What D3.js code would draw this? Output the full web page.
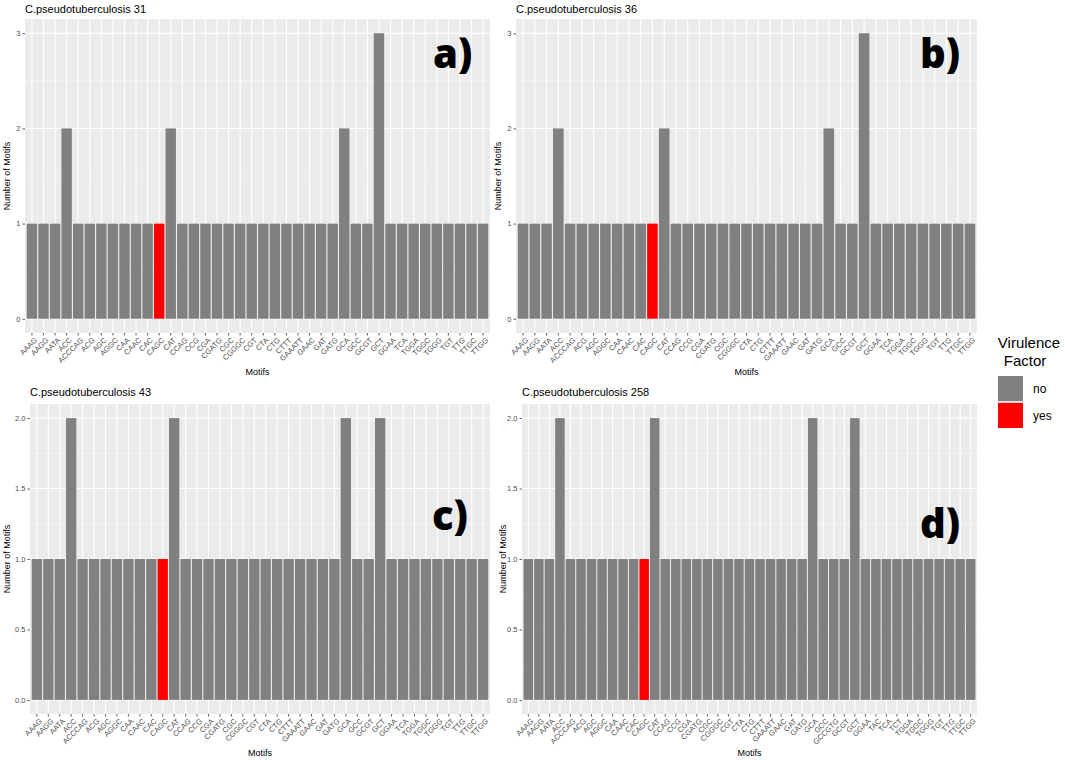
<!DOCTYPE html>
<html>
<head>
<meta charset="utf-8">
<script src="https://cdn.jsdelivr.net/npm/d3@7/dist/d3.min.js"></script>
<style>
  html, body { margin: 0; padding: 0; background: #fff; }
  svg { display: block; }
  text { font-family: "Liberation Sans", Arial, sans-serif; }
</style>
</head>
<body>
<svg id="chart" width="1065" height="760"></svg>
<script>
// ---------------- DATA ----------------
const motifsA = ["AAAG","AAGG","AATA","ACC","ACCCAG","ACG","AGC","AGGC","CAA","CAAC","CAC","CAGC","CAT","CCAG","CCG","CGA","CGATG","CGC","CGGGC","CGT","CTA","CTG","CTTT","GAAATT","GAAC","GAT","GATG","GCA","GCC","GCGT","GCT","GGAA","TCA","TGGA","TGGC","TGGG","TGT","TTG","TTGC","TTGG"];
const countsA = [1,1,1,2,1,1,1,1,1,1,1,1,2,1,1,1,1,1,1,1,1,1,1,1,1,1,1,2,1,1,3,1,1,1,1,1,1,1,1,1];

const motifsB = ["AAAG","AAGG","AATA","ACC","ACCCAG","ACG","AGC","AGGC","CAA","CAAC","CAC","CAGC","CAT","CCAG","CCG","CGA","CGATG","CGC","CGGGC","CTA","CTG","CTTT","GAAATT","GAAC","GAT","GATG","GCA","GCC","GCGT","GCT","GGAA","TCA","TGGA","TGGC","TGGG","TGT","TTG","TTGC","TTGG"];
const countsB = [1,1,1,2,1,1,1,1,1,1,1,1,2,1,1,1,1,1,1,1,1,1,1,1,1,1,2,1,1,3,1,1,1,1,1,1,1,1,1];

const motifsC = ["AAAG","AAGG","AATA","ACC","ACCCAG","ACG","AGC","AGGC","CAA","CAAC","CAC","CAGC","CAT","CCAG","CCG","CGA","CGATG","CGC","CGGGC","CGT","CTA","CTG","CTTT","GAAATT","GAAC","GAT","GATG","GCA","GCC","GCGT","GCT","GGAA","TCA","TGGA","TGGC","TGGG","TGT","TTG","TTGC","TTGG"];
const countsC = [1,1,1,2,1,1,1,1,1,1,1,1,2,1,1,1,1,1,1,1,1,1,1,1,1,1,1,2,1,1,2,1,1,1,1,1,1,1,1,1];

const motifsD = ["AAAG","AAGG","AATA","ACC","ACCCAG","ACG","AGC","AGGC","CAA","CAAC","CAC","CAGC","CAT","CCAG","CCG","CGA","CGATG","CGC","CGGGC","CGT","CTA","CTG","CTTT","GAAATT","GAAC","GAT","GATG","GCA","GCC","GCCGTG","GCGT","GCT","GGAA","TAC","TCA","TCT","TGGA","TGGC","TGGG","TGT","TTG","TTGC","TTGG"];
const countsD = [1,1,1,2,1,1,1,1,1,1,1,1,2,1,1,1,1,1,1,1,1,1,1,1,1,1,1,2,1,1,1,2,1,1,1,1,1,1,1,1,1,1,1];

const virulentMotifs = ["CAGC"];
const titles = ["C.pseudotuberculosis 31","C.pseudotuberculosis 36","C.pseudotuberculosis 43","C.pseudotuberculosis 258"];
const panelTags = ["a)","b)","c)","d)"];
const yTicksTop = [0,1,2,3];
const yTicksBottom = [0,0.5,1,1.5,2];
const legendLevels = ["no","yes"];
const fillColors = {no: "#808080", yes: "#FF0000"};

// ---------------- LAYOUT ----------------
const panels = [
  {motifs: motifsA, counts: countsA, title: titles[0], tag: panelTags[0], ticks: yTicksTop, fmt: d3.format("d"),
   left: 25, right: 490, top: 19, bottom: 333, titleY: 13, xTitleY: 375, ytX: 10, tagX: 433, tagY: 68},
  {motifs: motifsB, counts: countsB, title: titles[1], tag: panelTags[1], ticks: yTicksTop, fmt: d3.format("d"),
   left: 516, right: 977, top: 19, bottom: 333, titleY: 13, xTitleY: 375, ytX: 501, tagX: 920, tagY: 68},
  {motifs: motifsC, counts: countsC, title: titles[2], tag: panelTags[2], ticks: yTicksBottom, fmt: d3.format(".1f"),
   left: 30, right: 490, top: 404, bottom: 714, titleY: 396, xTitleY: 756, ytX: 10, tagX: 432, tagY: 530},
  {motifs: motifsD, counts: countsD, title: titles[3], tag: panelTags[3], ticks: yTicksBottom, fmt: d3.format(".1f"),
   left: 522, right: 977, top: 404, bottom: 714, titleY: 396, xTitleY: 756, ytX: 506, tagX: 920, tagY: 538}
];

const svg = d3.select("#chart");

panels.forEach(p => {
  const g = svg.append("g");
  const maxV = d3.max(p.ticks);
  const y = d3.scaleLinear().domain([-0.05 * maxV, 1.05 * maxV]).range([p.bottom, p.top]);
  const x = d3.scaleBand().domain(p.motifs).range([p.left, p.right]).paddingInner(0.1).paddingOuter(0.15).align(0.5);

  // panel background
  g.append("rect").attr("x", p.left).attr("y", p.top)
    .attr("width", p.right - p.left).attr("height", p.bottom - p.top).attr("fill", "#EBEBEB");

  // minor grid
  const step = p.ticks[1] - p.ticks[0];
  const minor = p.ticks.slice(0, -1).map(t => t + step / 2);
  g.selectAll(".minor").data(minor).enter().append("line")
    .attr("x1", p.left).attr("x2", p.right)
    .attr("y1", d => y(d)).attr("y2", d => y(d))
    .attr("stroke", "#fff").attr("stroke-width", 0.5);
  // major grid
  g.selectAll(".major").data(p.ticks).enter().append("line")
    .attr("x1", p.left).attr("x2", p.right)
    .attr("y1", d => y(d)).attr("y2", d => y(d))
    .attr("stroke", "#fff").attr("stroke-width", 1.1);
  g.selectAll(".vgrid").data(p.motifs).enter().append("line")
    .attr("x1", d => x(d) + x.bandwidth() / 2).attr("x2", d => x(d) + x.bandwidth() / 2)
    .attr("y1", p.top).attr("y2", p.bottom)
    .attr("stroke", "#fff").attr("stroke-width", 1.1);

  // bars
  g.selectAll(".bar").data(p.motifs.map((m, i) => ({m, v: p.counts[i]}))).enter().append("rect")
    .attr("x", d => x(d.m)).attr("width", x.bandwidth())
    .attr("y", d => y(d.v)).attr("height", d => y(0) - y(d.v))
    .attr("fill", d => virulentMotifs.includes(d.m) ? fillColors.yes : fillColors.no);

  // y axis
  const ya = g.append("g").attr("transform", `translate(${p.left},0)`)
    .call(d3.axisLeft(y).tickValues(p.ticks).tickFormat(p.fmt).tickSize(2.5).tickPadding(2));
  ya.select(".domain").remove();
  ya.selectAll(".tick line").attr("stroke", "#333").attr("stroke-width", 0.8);
  ya.selectAll(".tick text").attr("fill", "#4d4d4d").style("font-size", "7.5px")
    .style("font-family", "'Liberation Sans', Arial, sans-serif");

  // x axis
  const xa = g.append("g").attr("transform", `translate(0,${p.bottom})`)
    .call(d3.axisBottom(x).tickSize(2.5).tickPadding(2));
  xa.select(".domain").remove();
  xa.selectAll(".tick line").attr("stroke", "#333").attr("stroke-width", 0.8);
  xa.selectAll(".tick text")
    .attr("fill", "#4d4d4d").style("font-size", "7.5px")
    .style("font-family", "'Liberation Sans', Arial, sans-serif")
    .attr("text-anchor", "end").attr("x", 0).attr("y", 0).attr("dy", "0.7em")
    .attr("transform", "translate(2,4) rotate(-45)");

  // titles
  g.append("text").attr("x", p.left).attr("y", p.titleY)
    .attr("font-size", 11).attr("fill", "#000").text(p.title);
  g.append("text").attr("x", (p.left + p.right) / 2).attr("y", p.xTitleY)
    .attr("text-anchor", "middle").attr("font-size", 9).attr("fill", "#000").text("Motifs");
  g.append("text")
    .attr("transform", `translate(${p.ytX},${(p.top + p.bottom) / 2}) rotate(-90)`)
    .attr("text-anchor", "middle").attr("font-size", 9).attr("fill", "#000").text("Number of Motifs");

  // panel tag
  g.append("text").attr("x", p.tagX).attr("y", p.tagY)
    .style("font-family", "'Open Sans', sans-serif").attr("font-weight", 800)
    .attr("font-size", 40).attr("fill", "#000").text(p.tag);
});

// legend
const lg = svg.append("g");
lg.append("text").attr("x", 1029).attr("y", 348).attr("text-anchor", "middle")
  .attr("font-size", 15).attr("fill", "#000").text("Virulence");
lg.append("text").attr("x", 1025).attr("y", 366).attr("text-anchor", "middle")
  .attr("font-size", 15).attr("fill", "#000").text("Factor");
const ly = d3.scaleBand().domain(legendLevels).range([376, 428]).paddingInner(0.06);
lg.selectAll(".key").data(legendLevels).enter().append("rect")
  .attr("x", 998).attr("width", 25)
  .attr("y", d => ly(d)).attr("height", ly.bandwidth())
  .attr("fill", d => fillColors[d]);
lg.selectAll(".klab").data(legendLevels).enter().append("text")
  .attr("x", 1033).attr("y", d => ly(d) + ly.bandwidth() / 2)
  .attr("dy", "0.35em").attr("font-size", 12).attr("fill", "#000").text(d => d);
</script>
</body>
</html>
